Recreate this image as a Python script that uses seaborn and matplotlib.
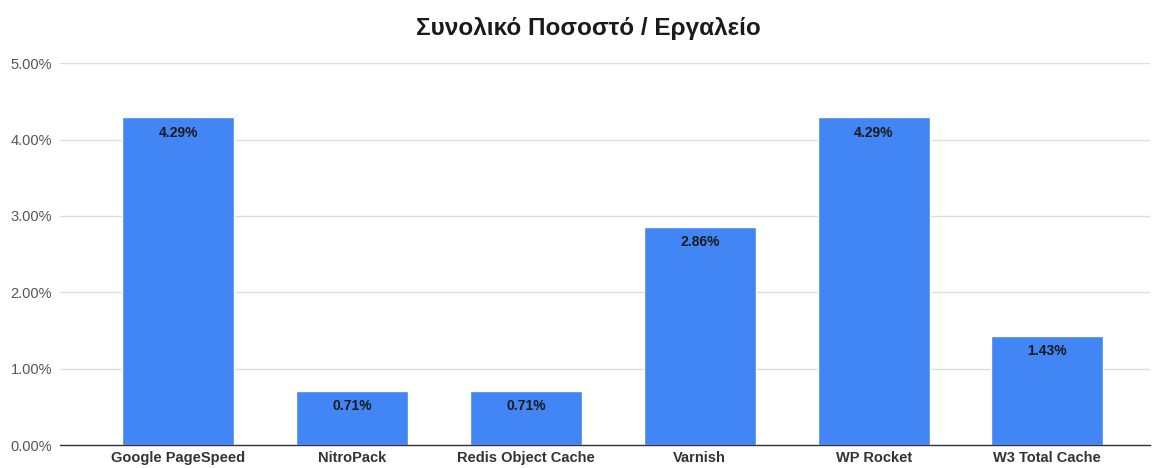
import matplotlib
matplotlib.use("Agg")
import matplotlib.pyplot as plt
import seaborn as sns
import pandas as pd

tools = ["Google PageSpeed", "NitroPack", "Redis Object Cache", "Varnish", "WP Rocket", "W3 Total Cache"]
pct = [4.29, 0.71, 0.71, 2.86, 4.29, 1.43]

df = pd.DataFrame({"tool": tools, "pct": pct})

sns.set_style("white")
plt.rcParams["font.family"] = ["Liberation Sans", "DejaVu Sans"]

fig = plt.figure(figsize=(11.58, 4.68), dpi=100)
ax = fig.add_axes([0.052, 0.049, 0.941, 0.816])

sns.barplot(x="tool", y="pct", data=df, color="#4285F4", width=0.645, saturation=1, ax=ax)

for c in ax.containers:
    ax.bar_label(c, labels=[f"{v:.2f}%" for v in pct], padding=-16,
                 fontsize=10, fontweight="bold", color="#1a1a1a")

ax.set_ylim(0, 5)
ax.set_xlim(-0.68, 5.59)
ax.set_yticks([0, 1, 2, 3, 4, 5])
ax.set_yticklabels([f"{t:.2f}%" for t in [0, 1, 2, 3, 4, 5]], fontsize=10.5, color="#555555")
ax.set_xticks(range(len(tools)))
ax.set_xticklabels(tools, fontsize=10.5, fontweight="bold", color="#333333")
ax.tick_params(axis="x", length=0, pad=4)
ax.tick_params(axis="y", length=0, pad=6)
ax.yaxis.grid(True, color="#dddddd", linewidth=1)
ax.set_axisbelow(True)
for s in ["top", "right", "left"]:
    ax.spines[s].set_visible(False)
ax.spines["bottom"].set_color("#333333")
ax.spines["bottom"].set_linewidth(1)
ax.set_xlabel("")
ax.set_ylabel("")

fig.text(0.508, 0.94, "Συνολικό Ποσοστό / Εργαλείο", ha="center", va="center",
         fontsize=17.5, fontweight="bold", color="#1a1a1a")

fig.savefig("out.png", dpi=100)
